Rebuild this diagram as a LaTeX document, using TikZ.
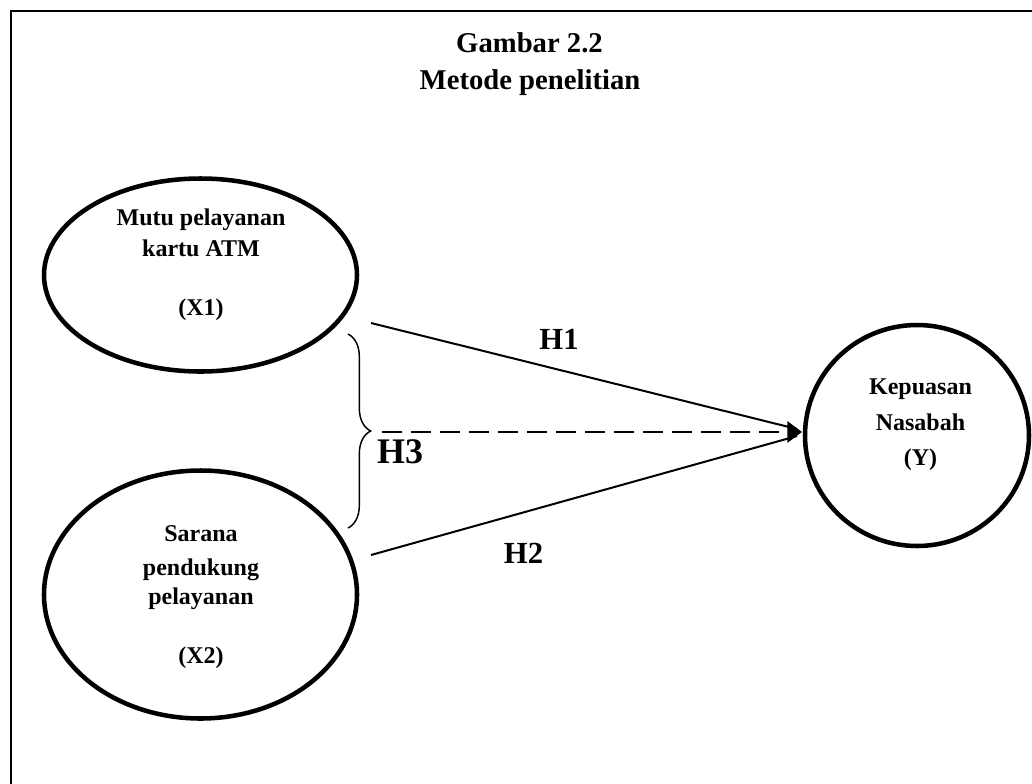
\documentclass[tikz,border=0pt]{standalone}
\usepackage{fontspec}
\setmainfont{Liberation Serif}
\usetikzlibrary{arrows.meta,decorations.pathreplacing,shapes.geometric}
\tikzset{
  varbox/.style={ellipse, draw, line width=3.4pt, inner sep=0pt},
  vtext/.style={anchor=base, font=\fontsize{18pt}{21pt}\selectfont\bfseries, inner sep=0pt},
  htext/.style={anchor=base, font=\fontsize{23pt}{26pt}\selectfont\bfseries, inner sep=0pt},
  ttext/.style={anchor=base, font=\fontsize{21.5pt}{25pt}\selectfont\bfseries, inner sep=0pt},
  link/.style={line width=1.5pt},
}
\begin{document}
\begin{tikzpicture}[x=0.75pt,y=-0.75pt]
\useasboundingbox (0,0) rectangle (1032,783);
% frame (top and left edges visible)
\coordinate (fbl) at (11,790);
\coordinate (ftl) at (11,11);
\coordinate (ftr) at (1040,11);
\draw[line width=1.3pt] (fbl) -- (ftl) -- (ftr);
% title
\node[ttext] (t1) at (529.5,52) {Gambar 2.2};
\node[ttext] (t2) at (530,89) {Metode penelitian};
% variables
\node[varbox, minimum width=234.75pt, minimum height=144.75pt] (X1) at (200.5,275) {};
\node[varbox, minimum width=234.75pt, minimum height=186pt] (X2) at (200.5,594.5) {};
\node[varbox, minimum width=168pt, minimum height=165.75pt] (Y) at (917,435.5) {};
% texts
\node[vtext] (x1a) at (201,225) {Mutu pelayanan};
\node[vtext] (x1b) at (201,256) {kartu ATM};
\node[vtext] (x1c) at (201,315) {(X1)};
\node[vtext] (x2a) at (201,541) {Sarana};
\node[vtext] (x2b) at (201,575) {pendukung};
\node[vtext] (x2c) at (201,604) {pelayanan};
\node[vtext] (x2d) at (201,663) {(X2)};
\node[vtext] (ya) at (920.5,394) {Kepuasan};
\node[vtext] (yb) at (920.5,430) {Nasabah};
\node[vtext] (yc) at (920.5,465) {(Y)};
% connectors
\coordinate (h1s) at (371,323);
\coordinate (h2s) at (371,555);
\coordinate (h3s) at (382,432);
\coordinate (tip) at (802,432);
\coordinate (h1e) at (797,429);
\coordinate (h2e) at (797,436);
\draw[link] (h1s) -- (h1e);
\draw[link] (h2s) -- (h2e);
\draw[link, dash pattern=on 15pt off 6.75pt, -{Triangle[length=11pt,width=16pt]}] (h3s) -- (tip);
% brace
\coordinate (bt) at (348,334);
\coordinate (bb) at (348,528);
\draw[line width=1.1pt, decorate, decoration={brace, amplitude=17pt}] (bt) -- (bb);
% hypothesis labels
\node[htext] (H1) at (559,349) {H1};
\node[htext] (H2) at (523.5,563) {H2};
\node[anchor=base, font=\fontsize{27pt}{30pt}\selectfont\bfseries, inner sep=0pt] (H3) at (400,463) {H3};
\end{tikzpicture}
\end{document}
